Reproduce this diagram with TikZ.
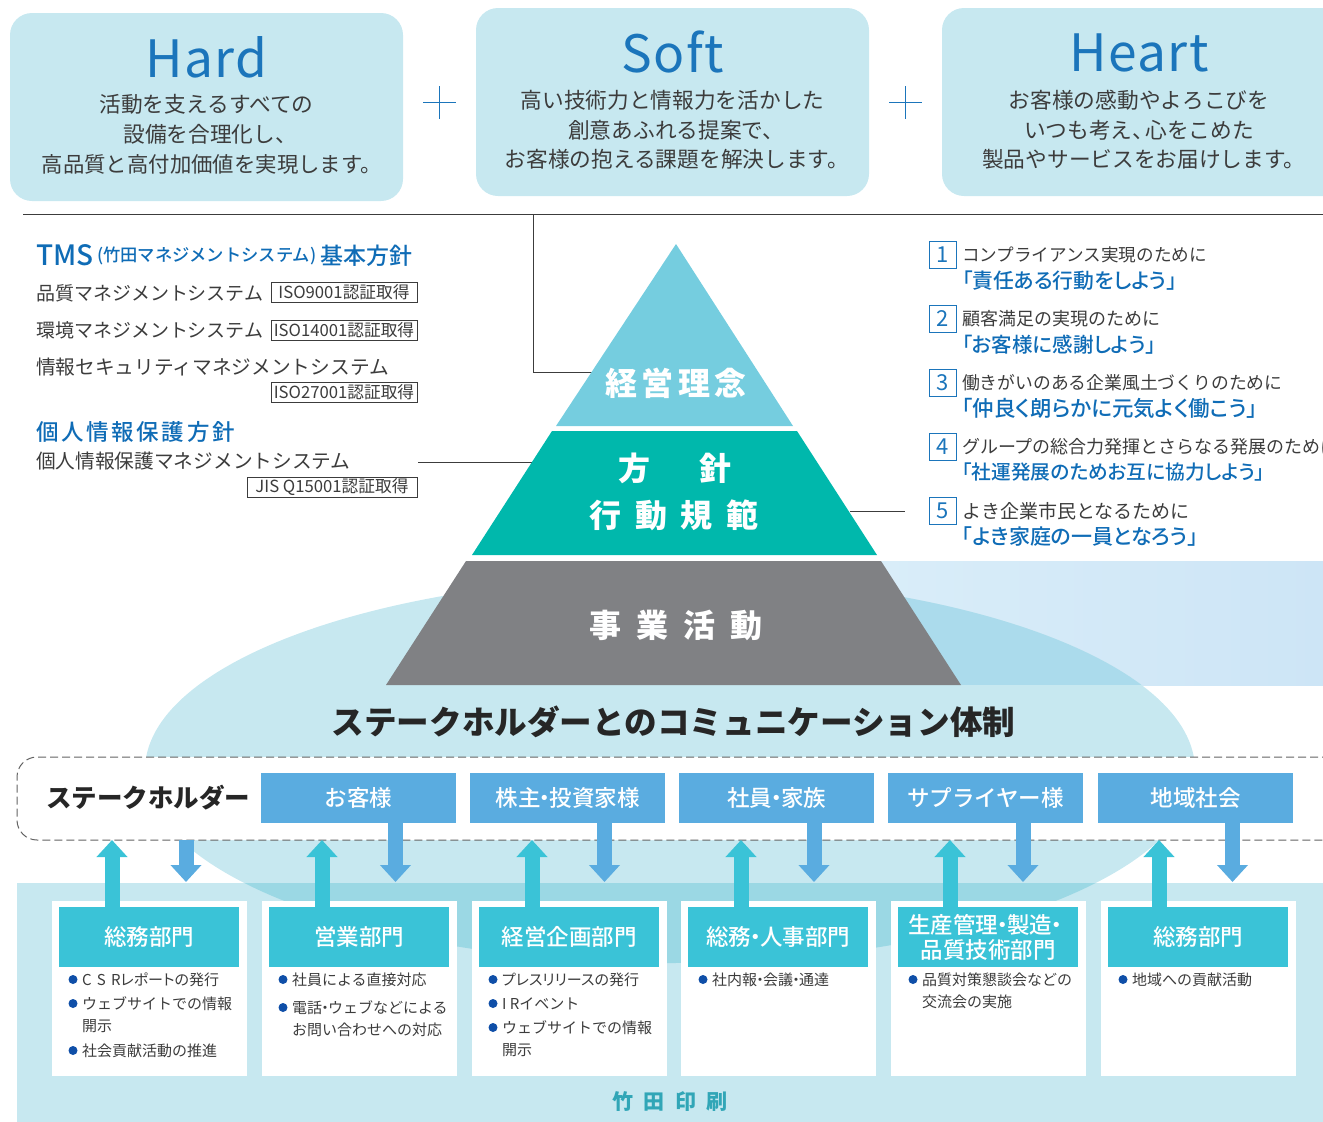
\documentclass[tikz,border=0pt]{standalone}
\usepackage{fontspec}
\usetikzlibrary{arrows.meta}
\setmainfont{Noto Sans CJK JP}
\newfontfamily\med{Noto Sans CJK JP Medium}
\definecolor{pale}{HTML}{C7E8F0}
\definecolor{paledark}{HTML}{9BD8E4}
\definecolor{hblue}{HTML}{1B75BB}
\definecolor{tblue}{HTML}{0F6CB6}
\definecolor{sky}{HTML}{5AACE0}
\definecolor{cyanb}{HTML}{3AC3D7}
\definecolor{dotb}{HTML}{0F4FA8}
\definecolor{ink}{HTML}{3C3C3C}
\definecolor{pyr1}{HTML}{75CDDF}
\definecolor{pyr2}{HTML}{00B8AC}
\definecolor{pyr3}{HTML}{808184}
\definecolor{bandl}{HTML}{D9EDF9}
\definecolor{bandr}{HTML}{CDE5F6}
\definecolor{bando}{HTML}{ABDBEC}
\newcommand{\fs}[2]{\fontsize{#1}{#2}\selectfont}
\newcommand{\ls}[1]{\addfontfeature{LetterSpace=#1}}
\newcommand{\nk}{\hspace{-.3em}・\hspace{-.3em}}
\newcommand{\hg}{\hspace{-.4em}}
\newcommand{\pl}{\addfontfeature{RawFeature=+palt}}
\tikzset{
  x=1pt,y=-1pt,
  txt/.style={inner sep=0pt,outer sep=0pt},
  toph/.style={txt,text=hblue,font=\fs{51.5}{54}\ls{3}},
  topb/.style={txt,text=ink,align=center,font=\fs{21.7}{29.7}},
  lbl/.style={txt,anchor=west,text=ink,font=\fs{19}{24}},
  iso/.style={draw=ink,line width=.8pt,fill=white,inner sep=0pt,minimum height=20pt,text=ink,font=\fs{16.7}{20}},
  numb/.style={draw=hblue,line width=1pt,minimum size=27pt,inner sep=0pt,text=hblue,font=\fs{22}{24}},
  rk/.style={txt,anchor=west,text=ink},
  rb/.style={txt,anchor=west,text=tblue},
  pyrt/.style={txt,text=white,align=center},
  stk/.style={fill=sky,minimum width=195pt,minimum height=50pt,inner sep=0pt,text=white,font=\med\fs{22.5}{26}},
  card/.style={fill=white,minimum width=195pt,minimum height=175pt,inner sep=0pt},
  chead/.style={fill=cyanb,minimum width=180pt,minimum height=60pt,inner sep=0pt,text=white,align=center,font=\med\fs{22.5}{25}},
  ctext/.style={txt,anchor=west,text=ink,font=\fs{15}{20}},
  dotn/.style={circle,fill=dotb,minimum size=9pt,inner sep=0pt},
  upar/.style={draw=cyanb,line width=15pt,-{Triangle[length=17pt,width=30pt]}},
  dnar/.style={draw=sky,line width=15pt,-{Triangle[length=17pt,width=30pt]}},
  thin line/.style={draw=ink,line width=1pt},
}
\begin{document}
\begin{tikzpicture}
\useasboundingbox (0,0) rectangle (1323,1122);
% top boxes
\fill[pale,rounded corners=22pt] (10,13) rectangle (403,201);
\fill[pale,rounded corners=22pt] (476,8) rectangle (869,196);
\fill[pale,rounded corners=22pt] (942,8) rectangle (1360,196);
\node[toph] (hardt) at (206.5,57) {Hard};
\node[toph] (softt) at (672.5,52.5) {Soft};
\node[toph] (heartt) at (1139,52.5) {Heart};
\node[topb] (hardb) at (206.5,134.5) {活動を支えるすべての\\設備を合理化し、\kern-.35em\\{\fs{21.4}{29.7}高品質と高付加価値を実現します。\kern-.5em}};
\node[topb] (softb) at (672.5,130) {高い技術力と情報力を活かした\\創意あふれる提案で、\kern-.35em\\お客様の抱える課題を解決します。\kern-.4em};
\node[topb] (heartb) at (1139,130) {お客様の感動やよろこびを\\いつも考え、\hg 心をこめた\\製品やサービスをお届けします。\kern-.45em};
\draw[hblue,line width=1.6pt] (423,102.5) -- (456,102.5) (439.5,86) -- (439.5,119);
\draw[hblue,line width=1.6pt] (889,102.5) -- (922,102.5) (905.5,86) -- (905.5,119);
% right band and ellipse
\shade[left color=bandl,right color=bandr] (880,561) rectangle (1323,685);
\fill[pale] (670,770) ellipse [x radius=525,y radius=193];
\begin{scope}
\clip (670,770) ellipse [x radius=525,y radius=193];
\fill[bando] (880,561) rectangle (1323,685);
\end{scope}
% bottom band
\fill[pale] (17,883) rectangle (1323,1122);
\begin{scope}
\clip (670,770) ellipse [x radius=525,y radius=193];
\fill[paledark] (17,883) rectangle (1323,1122);
\end{scope}
% rules
\coordinate (rl) at (23,214);
\coordinate (rr) at (1323,214);
\coordinate (rj) at (533.5,214);
\coordinate (ra) at (596,372.5);
\draw[thin line] (rl) -- (rr);
\draw[thin line] (rj) |- (ra);
\coordinate (ll) at (418,462);
\coordinate (lr) at (535,462);
\draw[thin line] (ll) -- (lr);
\coordinate (pr) at (850,511);
\coordinate (pq) at (905,511);
\draw[thin line] (pr) -- (pq);
% pyramid
\fill[pyr1] (676,244) -- (793,426) -- (556,426) -- cycle;
\fill[pyr2] (552,431) -- (797,431) -- (877,555) -- (472,555) -- cycle;
\fill[pyr3] (466,561) -- (881,561) -- (961,685) -- (386,685) -- cycle;
\node[pyrt,font=\bfseries\fs{32}{47}\ls{13}] (p1) at (676,383) {経営理念};
\node[pyrt,font=\bfseries\fs{32}{47}] (p2a) at (675,468) {方\hspace{1.56em}針};
\node[pyrt,font=\bfseries\fs{32}{47}\ls{42}] (p2b) at (674,515) {行動規範};
\node[pyrt,font=\bfseries\fs{32}{47}\ls{47}] (p3) at (676,625) {事業活動};
% left text
\node[txt,anchor=west,text=tblue] (tms1) at (36,255) {\med\fs{28}{30}TMS};
\node[txt,anchor=west,text=tblue] (tms2) at (97,256) {\med\fs{17.3}{20}(竹田マネジメントシステム)};
\node[txt,anchor=west,text=tblue] (tms3) at (320,256) {\med\fs{23}{26}基本方針};
\node[lbl] (q1) at (36,293) {品質マネジメントシステム};
\node[lbl] (q2) at (36,330) {環境マネジメントシステム};
\node[lbl,font=\fs{19.7}{24}] (q3) at (36,367) {情報セキュリティマネジメントシステム};
\node[iso,minimum width=146pt] (i1) at (344,292) {ISO9001認証取得};
\node[iso,minimum width=146pt] (i2) at (344,330) {ISO14001認証取得};
\node[iso,minimum width=146pt] (i3) at (344,392) {ISO27001認証取得};
\node[txt,anchor=west,text=tblue,font=\med\fs{22.5}{26}\ls{12}] (pp) at (36,432) {個人情報保護方針};
\node[lbl,font=\fs{19.7}{24}] (q4) at (36,461) {個人情報保護マネジメントシステム};
\node[iso,minimum width=170pt] (i4) at (332,487) {JIS Q15001認証取得};
% right list
\foreach \n/\y/\z/\w/\a/\b in {1/255/17.6/20.8/コンプライアンス実現のために/「責任ある行動をしよう」,
 2/319/18/20.5/顧客満足の実現のために/「お客様に感謝しよう」,
 3/383/17.8/21.5/働きがいのある企業風土づくりのために/「仲良く朗らかに元気よく働こう」,
 4/447/18/19.7/グループの総合力発揮とさらなる発展のために/「社運発展のためお互に協力しよう」,
 5/511/19/21/よき企業市民となるために/「よき家庭の一員となろう」}{
  \node[numb] (num\n) at (942.5,\y-.5) {\n};
  \node[rk,font=\fs{\z}{22}] (ra\n) at (962,\y) {\a};
  \node[rb,font=\med\pl\fs{\w}{22}] (rb\n) at (962,\y+25.5) {\b};
}
% title
\node[txt,text=black!85,font=\bfseries\fs{32.6}{36}] (title) at (673.5,722) {ステークホルダーとのコミュニケーション体制};
% stakeholder strip
\fill[white,rounded corners=20pt] (1360,757) -- (17,757) -- (17,840) -- (1360,840) -- cycle;
\draw[draw=ink!80,line width=1pt,dash pattern=on 8pt off 4pt,rounded corners=20pt] (1330,757) -- (17,757) -- (17,840) -- (1330,840);
\node[txt,text=black!85,font=\bfseries\fs{25.5}{30}] (stl) at (148,798) {ステークホルダー};
\node[stk] (s1) at (358.5,798) {お客様};
\node[stk] (s2) at (567.5,798) {株主\nk 投資家様};
\node[stk] (s3) at (776.5,798) {社員\nk 家族};
\node[stk] (s4) at (985.5,798) {サプライヤー様};
\node[stk] (s5) at (1195.5,798) {地域社会};
% cards
\node[card] (c1) at (149.5,988.5) {};
\node[card] (c2) at (359.5,988.5) {};
\node[card] (c3) at (569.5,988.5) {};
\node[card] (c4) at (778.5,988.5) {};
\node[card] (c5) at (988.5,988.5) {};
\node[card] (c6) at (1198.5,988.5) {};
\node[chead] (h1) at (149,937) {総務部門};
\node[chead] (h2) at (359,937) {営業部門};
\node[chead] (h3) at (569,937) {経営企画部門};
\node[chead] (h4) at (778,937) {総務\nk 人事部門};
\node[chead] (h5) at (988,937) {生産管理\nk 製造\nk\\品質技術部門};
\node[chead] (h6) at (1198,937) {総務部門};
% arrows
\foreach \i/\ux/\dx in {1/112/186,2/322/395.5,3/532/604.5,4/741/814,5/950/1023,6/1159/1232.5}{
  \coordinate (ub\i) at (\ux,907);
  \coordinate (ut\i) at (\ux,840);
  \coordinate (dt\i) at (\dx,882);
  \coordinate (db\i) at (\dx,823);
  \draw[upar] (ub\i) -- (ut\i);
}
\coordinate (db1) at (186,840);
\foreach \i in {1,...,6}{\draw[dnar] (db\i) -- (dt\i);}
% card text
\foreach \x/\y/\t/\nm in {73/979.5/{\pl C\hspace{.35em}S\hspace{.35em}Rレポートの発行}/a,73/1003.5/ウェブサイトでの情報/b,73/1050.5/社会貢献活動の推進/c,
 283/979.5/社員による直接対応/d,283/1007.5/電話\nk ウェブなどによる/e,
 493/979.5/{\pl プレスリリースの発行}/f,493/1003.5/{I Rイベント}/g,493/1027.5/ウェブサイトでの情報/h,
 703/979.5/社内報\nk 会議\nk 通達/i,913/979.5/品質対策懇談会などの/j,1123/979.5/地域への貢献活動/k}{
  \node[dotn] (dot\nm) at (\x,\y) {};
  \node[ctext] (tx\nm) at (\x+9,\y) {\t};
}
\node[ctext] (txb2) at (82,1026.5) {開示};
\node[ctext] (txe2) at (292,1029.5) {お問い合わせへの対応};
\node[ctext] (txh2) at (502,1050.5) {開示};
\node[ctext] (txj2) at (922,1001.5) {交流会の実施};
\node[txt,text=cyanb!85!black,font=\bfseries\fs{21}{24}\ls{48}] (foot) at (670,1101.5) {竹田印刷};
\end{tikzpicture}
\end{document}
